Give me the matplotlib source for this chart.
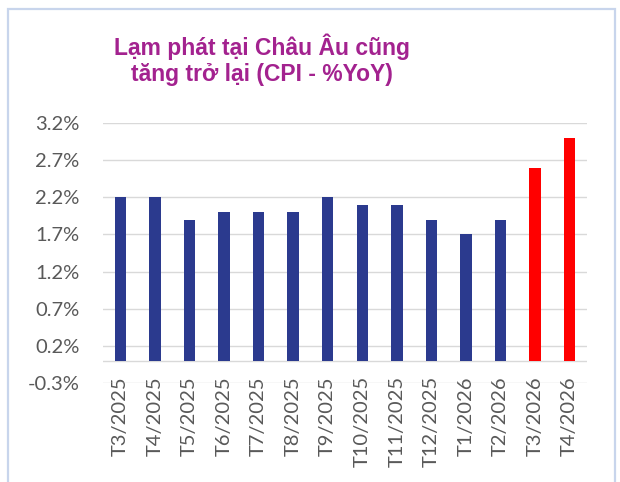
import matplotlib
matplotlib.use("Agg")
import matplotlib.pyplot as plt
from matplotlib.patches import Rectangle
from matplotlib.ticker import FuncFormatter

categories = ["T3/2025", "T4/2025", "T5/2025", "T6/2025", "T7/2025", "T8/2025", "T9/2025",
              "T10/2025", "T11/2025", "T12/2025", "T1/2026", "T2/2026", "T3/2026", "T4/2026"]
cpi = [2.2, 2.2, 1.9, 2.0, 2.0, 2.0, 2.2, 2.1, 2.1, 1.9, 1.7, 1.9, 2.6, 3.0]
forecast = [False] * 12 + [True, True]
yticks = [-0.3, 0.2, 0.7, 1.2, 1.7, 2.2, 2.7, 3.2]
title_lines = ["Lạm phát tại Châu Âu cũng", "tăng trở lại (CPI - %YoY)"]

BLUE = "#2B3A8E"
RED = "#FF0000"
W, H = 620, 482
fig = plt.figure(figsize=(W / 100, H / 100), dpi=100)
ax = fig.add_axes([103 / W, 1 - 383 / H, (587 - 103) / W, (383 - 123) / H])

x = list(range(len(categories)))
colors = [RED if f else BLUE for f in forecast]
ax.bar(x, cpi, width=0.33, color=colors, zorder=3)
ax.set_xlim(-0.5, len(categories) - 0.5)
ax.set_ylim(-0.3, 3.2)
ax.set_yticks(yticks)
ax.yaxis.set_major_formatter(FuncFormatter(lambda v, p: f"{v:.1f}%"))
ax.grid(axis="y", color="#D9D9D9", lw=1, zorder=0)
ax.axhline(0, color="#D9D9D9", lw=1, zorder=1)
for s in ax.spines.values():
    s.set_visible(False)
ax.set_xticks(x)
ax.set_xticklabels(categories, rotation=90)
ax.tick_params(axis="y", length=0, pad=17, labelsize=14.5, labelcolor="#595959")
ax.tick_params(axis="x", length=0, pad=-5, labelsize=14.5, labelcolor="#595959")
for lab in ax.get_xticklabels() + ax.get_yticklabels():
    lab.set_family("Lato")

for line, yb in zip(title_lines, [55, 81]):
    fig.text(262 / W, 1 - yb / H, line, ha="center", va="baseline",
             fontsize=16.5, fontweight="bold", color="#A3228F",
             family="Liberation Sans")

fig.patches.append(Rectangle((8 / W, -0.02), (615 - 8) / W, (482 - 9) / H + 0.02,
                             transform=fig.transFigure, fill=False,
                             edgecolor="#C8D5EC", lw=1.6))
fig.savefig("out.png", dpi=100)
